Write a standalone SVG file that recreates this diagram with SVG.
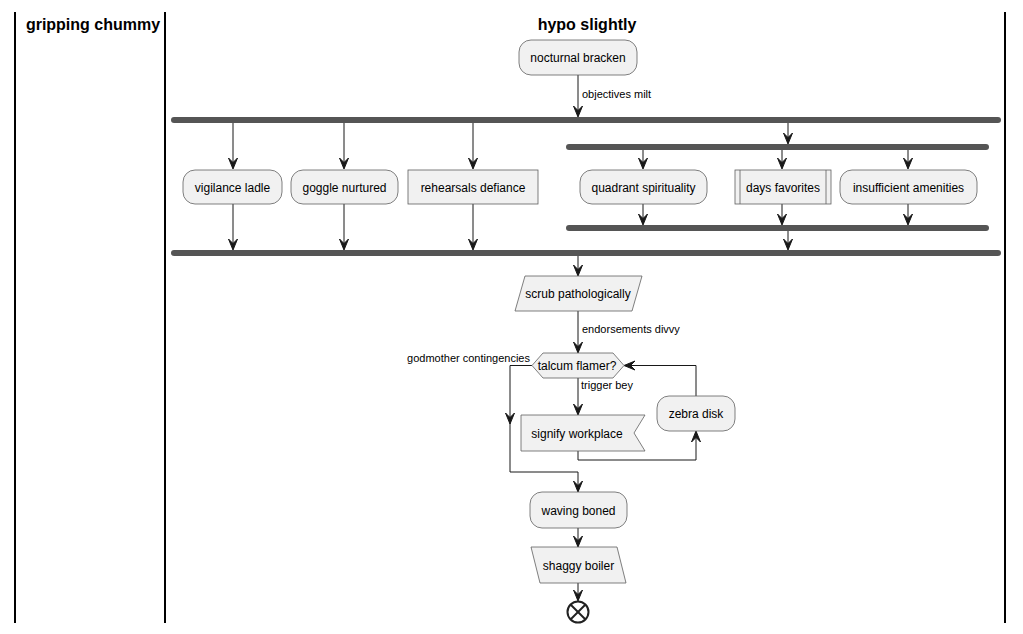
<svg xmlns="http://www.w3.org/2000/svg" width="1023" height="634" viewBox="0 0 1023 634">
<style>
.lane{stroke:#000;stroke-width:2;fill:none}
.title{font-family:"Liberation Sans",Arial,sans-serif;font-size:16px;font-weight:bold;fill:#000}
.box{fill:#F1F1F1;stroke:#5F5F5F;stroke-width:0.8}
.t{font-family:"Liberation Sans",Arial,sans-serif;font-size:12px;fill:#000}
.lbl{font-family:"Liberation Sans",Arial,sans-serif;font-size:11px;fill:#000}
.bar{fill:#555555;stroke:none}
.ln{stroke:#181818;stroke-width:1;fill:none}
.ah{fill:#181818;stroke:#181818;stroke-width:1}
</style>
<defs>
<path id="ad" d="M0,0 L-4.5,-11 L0,-6.5 L4.5,-11 Z"/>
</defs>
<rect width="1023" height="634" fill="#FFFFFF"/>
<g id="lanes">
<line class="lane" x1="15" y1="12" x2="15" y2="623"/>
<line class="lane" x1="165" y1="12" x2="165" y2="623"/>
<line class="lane" x1="1005" y1="12" x2="1005" y2="623"/>
<text class="title" x="93" y="30" text-anchor="middle">gripping chummy</text>
<text class="title" x="587" y="30" text-anchor="middle">hypo slightly</text>
</g>
<g id="bars">
<rect class="bar" x="171" y="117" width="830" height="6" rx="3"/>
<rect class="bar" x="566" y="144" width="423" height="6" rx="3"/>
<rect class="bar" x="566" y="225" width="423" height="6" rx="3"/>
<rect class="bar" x="171" y="250" width="830" height="6" rx="3"/>
</g>
<g id="connectors">
<line class="ln" x1="578" y1="75" x2="578" y2="116"/>
<use href="#ad" class="ah" x="578" y="117"/>
<text class="lbl" x="582" y="98">objectives milt</text>
<line class="ln" x1="233" y1="123" x2="233" y2="168"/><use href="#ad" class="ah" x="233" y="169"/>
<line class="ln" x1="344" y1="123" x2="344" y2="168"/><use href="#ad" class="ah" x="344" y="169"/>
<line class="ln" x1="473" y1="123" x2="473" y2="168"/><use href="#ad" class="ah" x="473" y="169"/>
<line class="ln" x1="788" y1="123" x2="788" y2="143"/><use href="#ad" class="ah" x="788" y="144"/>
<line class="ln" x1="643" y1="150" x2="643" y2="168"/><use href="#ad" class="ah" x="643" y="169"/>
<line class="ln" x1="782" y1="150" x2="782" y2="168"/><use href="#ad" class="ah" x="782" y="169"/>
<line class="ln" x1="908" y1="150" x2="908" y2="168"/><use href="#ad" class="ah" x="908" y="169"/>
<line class="ln" x1="643" y1="204" x2="643" y2="224"/><use href="#ad" class="ah" x="643" y="225"/>
<line class="ln" x1="782" y1="204" x2="782" y2="224"/><use href="#ad" class="ah" x="782" y="225"/>
<line class="ln" x1="908" y1="204" x2="908" y2="224"/><use href="#ad" class="ah" x="908" y="225"/>
<line class="ln" x1="788" y1="231" x2="788" y2="249"/><use href="#ad" class="ah" x="788" y="250"/>
<line class="ln" x1="233" y1="204" x2="233" y2="249"/><use href="#ad" class="ah" x="233" y="250"/>
<line class="ln" x1="344" y1="204" x2="344" y2="249"/><use href="#ad" class="ah" x="344" y="250"/>
<line class="ln" x1="473" y1="204" x2="473" y2="249"/><use href="#ad" class="ah" x="473" y="250"/>
<line class="ln" x1="578" y1="256" x2="578" y2="275"/><use href="#ad" class="ah" x="578" y="276"/>
<line class="ln" x1="578" y1="311" x2="578" y2="352"/><use href="#ad" class="ah" x="578" y="353"/>
<text class="lbl" x="582" y="333">endorsements divvy</text>
<polyline class="ln" points="532,365.5 510,365.5 510,472 578,472 578,491"/>
<use href="#ad" class="ah" x="510" y="424"/>
<use href="#ad" class="ah" x="578" y="492"/>
<text class="lbl" x="530" y="362" text-anchor="end">godmother contingencies</text>
<line class="ln" x1="578" y1="378" x2="578" y2="414"/><use href="#ad" class="ah" x="578" y="415"/>
<text class="lbl" x="581" y="389">trigger bey</text>
<polyline class="ln" points="578,451 578,460 696,460 696,432"/>
<use href="#ad" class="ah" transform="translate(696,431) rotate(180)"/>
<polyline class="ln" points="696,396 696,365.5 625,365.5"/>
<use href="#ad" class="ah" transform="translate(624,365.5) rotate(90)"/>
<line class="ln" x1="578" y1="528" x2="578" y2="546"/><use href="#ad" class="ah" x="578" y="547"/>
<line class="ln" x1="578" y1="583" x2="578" y2="600"/><use href="#ad" class="ah" x="578" y="601"/>
</g>
<g id="n1"><rect class="box" x="519" y="40" width="118" height="35" rx="12"/><text class="t" x="578" y="62" text-anchor="middle">nocturnal bracken</text></g>
<g id="n2"><rect class="box" x="183" y="170" width="99" height="34" rx="12"/><text class="t" x="232.5" y="191.5" text-anchor="middle">vigilance ladle</text></g>
<g id="n3"><rect class="box" x="291" y="170" width="107" height="34" rx="12"/><text class="t" x="344.5" y="191.5" text-anchor="middle">goggle nurtured</text></g>
<g id="n4"><rect class="box" x="408" y="170" width="130" height="34"/><text class="t" x="473" y="191.5" text-anchor="middle">rehearsals defiance</text></g>
<g id="n5"><rect class="box" x="580" y="170" width="127" height="34" rx="12"/><text class="t" x="643.5" y="191.5" text-anchor="middle">quadrant spirituality</text></g>
<g id="n6"><rect class="box" x="735" y="170" width="96" height="34"/><line class="box" x1="740" y1="170" x2="740" y2="204"/><line class="box" x1="826" y1="170" x2="826" y2="204"/><text class="t" x="783" y="191.5" text-anchor="middle">days favorites</text></g>
<g id="n7"><rect class="box" x="840" y="170" width="137" height="34" rx="12"/><text class="t" x="908.5" y="191.5" text-anchor="middle">insufficient amenities</text></g>
<g id="n8"><polygon class="box" points="525,276 642,276 632,311 515,311"/><text class="t" x="578" y="298" text-anchor="middle">scrub pathologically</text></g>
<g id="n9"><polygon class="box" points="543,353 613,353 624,365.5 613,378 543,378 532,365.5"/><text class="t" x="577" y="370" text-anchor="middle">talcum flamer?</text></g>
<g id="n10"><polygon class="box" points="521,415 645,415 634,433 645,451 521,451"/><text class="t" x="577" y="437.5" text-anchor="middle">signify workplace</text></g>
<g id="n11"><rect class="box" x="657" y="396" width="78" height="35" rx="12"/><text class="t" x="696" y="418" text-anchor="middle">zebra disk</text></g>
<g id="n12"><rect class="box" x="530" y="492" width="97" height="36" rx="12"/><text class="t" x="578.5" y="514.5" text-anchor="middle">waving boned</text></g>
<g id="n13"><polygon class="box" points="531,547 617,547 626,583 540,583"/><text class="t" x="578.5" y="569.5" text-anchor="middle">shaggy boiler</text></g>
<g id="end"><circle cx="578" cy="612" r="10.5" fill="#FFFFFF" stroke="#222222" stroke-width="2"/><line x1="570.5" y1="604.5" x2="585.5" y2="619.5" stroke="#222222" stroke-width="2"/><line x1="585.5" y1="604.5" x2="570.5" y2="619.5" stroke="#222222" stroke-width="2"/></g>
</svg>
